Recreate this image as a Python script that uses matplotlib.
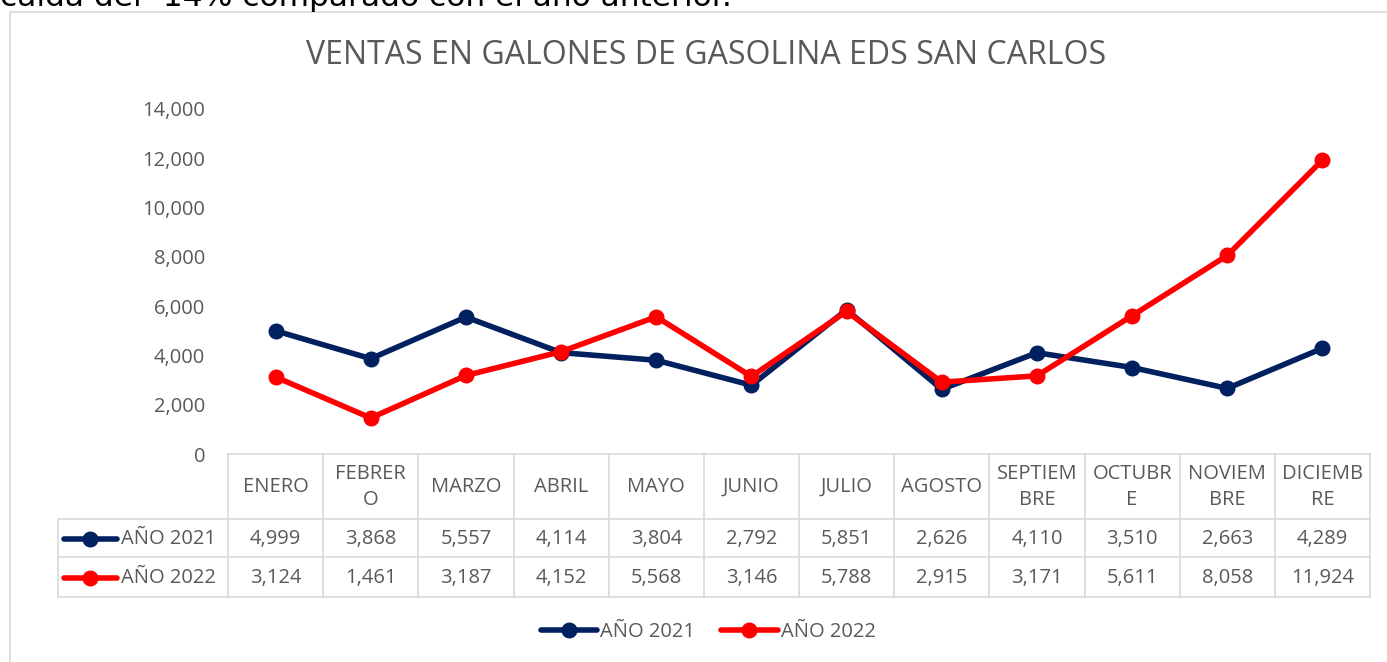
import matplotlib.pyplot as plt
from matplotlib.lines import Line2D
from matplotlib.patches import Rectangle
from matplotlib.ticker import FuncFormatter

# datos
meses = ["ENERO", "FEBRER\nO", "MARZO", "ABRIL", "MAYO", "JUNIO", "JULIO",
         "AGOSTO", "SEPTIEM\nBRE", "OCTUBR\nE", "NOVIEM\nBRE", "DICIEMB\nRE"]
ventas_2021 = [4999, 3868, 5557, 4114, 3804, 2792, 5851, 2626, 4110, 3510, 2663, 4289]
ventas_2022 = [3124, 1461, 3187, 4152, 5568, 3146, 5788, 2915, 3171, 5611, 8058, 11924]
series = ["AÑO 2021", "AÑO 2022"]
colores = ["#002060", "#FF0000"]

plt.rcParams["font.family"] = ["Open Sans", "DejaVu Sans"]
GRIS = "#595959"
BORDE = "#D9D9D9"
FS = 14.5
LW, MS = 4.0, 10.5
W, H = 1387, 662

fig = plt.figure(figsize=(W / 100, H / 100), dpi=100)

# texto del documento cortado arriba
fig.text(0, 1 - 6 / H, "caída del -14% comparado con el año anterior.",
         fontsize=22.5, color="black", va="baseline", ha="left",
         family=["DejaVu Sans"])

# marco del grafico
fig.patches.append(Rectangle((10 / W, -0.1), 1.2, 1 - 12 / H + 0.1,
                             transform=fig.transFigure, fill=False,
                             edgecolor=BORDE, linewidth=1.2))

x0, x1, y0, y1 = 228, 1370, 454, 109
ax = fig.add_axes([x0 / W, 1 - y0 / H, (x1 - x0) / W, (y0 - y1) / H])
ax.patch.set_alpha(0)

x = list(range(len(meses)))
for vals, nombre, c in zip([ventas_2021, ventas_2022], series, colores):
    ax.plot(x, vals, color=c, linewidth=LW, marker="o", markersize=MS,
            solid_capstyle="round", solid_joinstyle="round", label=nombre,
            zorder=3)

ax.set_xlim(-0.5, len(meses) - 0.5)
ax.set_ylim(0, 14000)
ax.set_yticks(range(0, 14001, 2000))
ax.yaxis.set_major_formatter(FuncFormatter(lambda v, p: f"{int(v):,}"))
ax.tick_params(axis="y", length=0, pad=16.5, labelsize=FS, labelcolor=GRIS)
ax.set_xticks([])
for s in ax.spines.values():
    s.set_visible(False)

fig.text(706 / W, 1 - 55 / H, "VENTAS EN GALONES DE GASOLINA EDS SAN CARLOS",
         ha="center", va="center", fontsize=23, color=GRIS)

# tabla de datos
ah = y0 - y1
aw = x1 - x0
def fy(py):
    return (y0 - py) / ah
def fx(px):
    return (px - x0) / aw

tr = ax.transAxes
xt = ax.get_xaxis_transform()
kw = dict(color=BORDE, linewidth=1.2, clip_on=False)
ax.add_line(Line2D([0, 1], [fy(454), fy(454)], transform=tr, **kw))
for py in (519, 557, 597):
    ax.add_line(Line2D([fx(58), 1], [fy(py), fy(py)], transform=tr, **kw))
for i in range(len(meses) + 1):
    ax.add_line(Line2D([i - 0.5, i - 0.5], [fy(454), fy(597)], transform=xt, **kw))
ax.add_line(Line2D([fx(58), fx(58)], [fy(519), fy(597)], transform=tr, **kw))

for i, m in enumerate(meses):
    ax.text(i, fy(487), m, transform=xt, ha="center", va="center",
            fontsize=FS, color=GRIS, linespacing=1.4)
    ax.text(i, fy(539), f"{ventas_2021[i]:,}", transform=xt, ha="center",
            va="center", fontsize=FS, color=GRIS)
    ax.text(i, fy(578), f"{ventas_2022[i]:,}", transform=xt, ha="center",
            va="center", fontsize=FS, color=GRIS)

for py, nombre, c in zip((539, 578), series, colores):
    ax.add_line(Line2D([fx(64), fx(117)], [fy(py), fy(py)], transform=tr,
                       color=c, linewidth=LW, solid_capstyle="round",
                       clip_on=False))
    ax.add_line(Line2D([fx(90)], [fy(py)], transform=tr, color=c, marker="o",
                       markersize=MS, clip_on=False))
    ax.text(fx(121), fy(py), nombre, transform=tr, ha="left", va="center",
            fontsize=FS, color=GRIS)

# leyenda
leg = fig.legend(loc="center", bbox_to_anchor=(708 / W, 1 - 632 / H), ncol=2,
                 frameon=False, fontsize=FS, handlelength=2.8,
                 handletextpad=0.15, columnspacing=1.3, labelcolor=GRIS)

fig.savefig("out.png", dpi=100)
